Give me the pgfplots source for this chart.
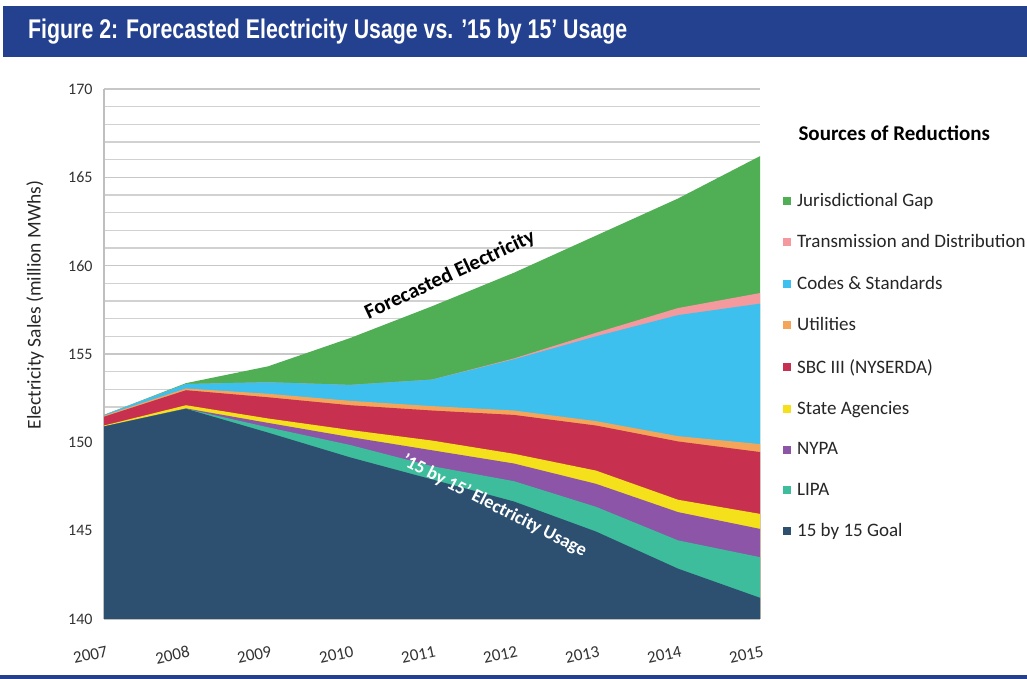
\documentclass[border=0pt]{standalone}
\usepackage{pgfplots}
\pgfplotsset{compat=1.18}
\usepackage{pgfplotstable}
\usepackage{fontspec}
\setmainfont{Carlito}
\newfontfamily\titlefont{Liberation Sans}

\definecolor{cJur}{HTML}{50AE55}
\definecolor{cTD}{HTML}{F4999D}
\definecolor{cCodes}{HTML}{3DC0EE}
\definecolor{cUtil}{HTML}{F5A55A}
\definecolor{cSBC}{HTML}{C8304F}
\definecolor{cState}{HTML}{F4E11C}
\definecolor{cNYPA}{HTML}{8C55A8}
\definecolor{cLIPA}{HTML}{3EBD9C}
\definecolor{cGoal}{HTML}{2D5070}
\definecolor{cBar}{HTML}{24418F}

% cumulative tops of each layer (million MWhs)
\pgfplotstableread{
year goal   lipa   nypa   state  sbc    util   codes  td     jur
2007 150.90 150.90 150.90 150.95 151.45 151.50 151.55 151.55 151.55
2008 151.90 151.90 151.92 152.10 152.95 153.05 153.30 153.30 153.35
2009 150.55 150.85 151.10 151.35 152.55 152.75 153.40 153.40 154.30
2010 149.15 149.85 150.30 150.70 152.10 152.35 153.25 153.25 155.90
2011 147.90 148.65 149.55 150.10 151.80 152.05 153.55 153.55 157.70
2012 146.65 147.80 148.80 149.35 151.55 151.80 154.70 154.75 159.60
2013 144.95 146.35 147.65 148.40 150.95 151.20 156.00 156.20 161.70
2014 142.85 144.45 146.05 146.75 150.05 150.35 157.20 157.60 163.80
2015 141.20 143.50 145.10 145.95 149.45 149.90 157.85 158.45 166.20
}\data

\begin{document}
\begin{tikzpicture}[x=1pt,y=1pt]
\path[use as bounding box] (0,0) rectangle (1027,679);
\fill[white] (0,0) rectangle (1027,679);
% title bar
\fill[cBar] (3,622) rectangle (1027,673);
\node[anchor=west,text=white,inner sep=0pt] at (28,647)
  {\titlefont\bfseries\fontsize{27}{30}\selectfont\scalebox{0.79}[1]{Figure 2: Forecasted Electricity Usage vs. ’15 by 15’ Usage}};
% bottom rule
\fill[cBar] (0,0) rectangle (1027,4);

\begin{axis}[
  at={(104pt,60pt)}, anchor=south west,
  scale only axis, width=656pt, height=530pt,
  xmin=2007, xmax=2015, ymin=140, ymax=170,
  xtick={2007,2008,2009,2010,2011,2012,2013,2014,2015},
  xticklabels={2007,2008,2009,2010,2011,2012,2013,2014,2015},
  ytick={140,145,150,155,160,165,170},
  minor y tick num=4,
  ymajorgrids, yminorgrids,
  major grid style={draw=black!22, line width=1.2pt},
  minor grid style={draw=black!18, line width=1.2pt},
  axis x line=bottom, axis y line=left,
  axis line style={draw=black!25, line width=1.2pt, -},
  major tick length=0pt, minor tick length=0pt,
  /pgf/number format/assume math mode=true,
  tick label style={font=\fontsize{16}{19}\selectfont, text=black!80},
  x tick label style={font=\fontsize{17}{20}\selectfont, rotate=12, anchor=north east, yshift=-23pt, xshift=0pt},
  y tick label style={xshift=-8pt},
  legend style={at={(1.035,0.8075)}, anchor=north west, draw=none, fill=none,
    font=\fontsize{19}{22}\selectfont, row sep=22.8pt, column sep=4pt, inner sep=0pt,
    cells={anchor=west}, text=black!85},
  legend image code/.code={\fill[#1,draw=none] (0pt,-4pt) rectangle (8pt,4pt);},
]
\addplot[fill=cJur, draw=none] table[x=year,y=jur]{\data} \closedcycle;
\addlegendentry{Jurisdictional Gap}
\addplot[fill=cTD, draw=none] table[x=year,y=td]{\data} \closedcycle;
\addlegendentry{Transmission and Distribution}
\addplot[fill=cCodes, draw=none] table[x=year,y=codes]{\data} \closedcycle;
\addlegendentry{Codes \& Standards}
\addplot[fill=cUtil, draw=none] table[x=year,y=util]{\data} \closedcycle;
\addlegendentry{Utilities}
\addplot[fill=cSBC, draw=none] table[x=year,y=sbc]{\data} \closedcycle;
\addlegendentry{SBC III (NYSERDA)}
\addplot[fill=cState, draw=none] table[x=year,y=state]{\data} \closedcycle;
\addlegendentry{State Agencies}
\addplot[fill=cNYPA, draw=none] table[x=year,y=nypa]{\data} \closedcycle;
\addlegendentry{NYPA}
\addplot[fill=cLIPA, draw=none] table[x=year,y=lipa]{\data} \closedcycle;
\addlegendentry{LIPA}
\addplot[fill=cGoal, draw=none] table[x=year,y=goal]{\data} \closedcycle;
\addlegendentry{15 by 15 Goal}

\node[rotate=25, font=\bfseries\fontsize{21}{24}\selectfont] at (axis cs:2011.22,159.45) {Forecasted Electricity};
\node[rotate=-27, text=white, font=\bfseries\fontsize{18.5}{22}\selectfont] at (axis cs:2011.76,146.4) {’15 by 15’ Electricity Usage};
\end{axis}

\node[anchor=west, font=\bfseries\fontsize{21}{24}\selectfont] at (795,546) {Sources of Reductions};
\node[rotate=90, font=\fontsize{19.5}{22}\selectfont, text=black!85] at (35,374) {Electricity Sales (million MWhs)};
\end{tikzpicture}
\end{document}
